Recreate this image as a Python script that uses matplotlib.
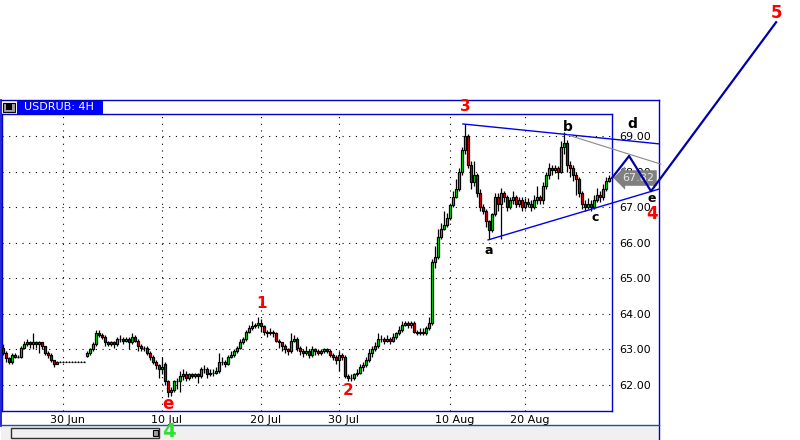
import matplotlib
matplotlib.use("Agg")
import matplotlib.pyplot as plt
from matplotlib.patches import Rectangle
from matplotlib.transforms import blended_transform_factory, ScaledTranslation

# USDRUB 4H candles
opens = [63.05, 62.9, 62.75, 62.65, 62.85, 62.8, 62.8, 63.05, 63.15, 63.2,
         63.15, 63.2, 63.15, 63.2, 63.1, 62.9, 62.85, 62.7, 62.6, 62.66,
         62.66, 62.66, 62.66, 62.66, 62.66, 62.66, 62.66, 62.66, 62.82, 62.9,
         63.0, 63.15, 63.45, 63.4, 63.35, 63.2, 63.15, 63.2, 63.15, 63.3,
         63.3, 63.25, 63.3, 63.2, 63.35, 63.25, 63.1, 63.05, 63.05, 62.9,
         62.8, 62.65, 62.55, 62.45, 62.6, 62.1, 61.8, 61.85, 62.1, 62.1,
         62.25, 62.3, 62.2, 62.3, 62.25, 62.3, 62.25, 62.45, 62.45, 62.3,
         62.35, 62.35, 62.4, 62.65, 62.65, 62.6, 62.8, 62.85, 62.95, 63.05,
         63.2, 63.3, 63.5, 63.6, 63.65, 63.7, 63.75, 63.65, 63.5, 63.45,
         63.5, 63.45, 63.25, 63.2, 63.1, 63.0, 62.95, 63.25, 63.3, 63.05,
         62.95, 62.9, 62.95, 62.85, 63.0, 62.95, 62.9, 62.95, 63.0, 62.95,
         62.85, 62.8, 62.7, 62.85, 62.8, 62.25, 62.2, 62.2, 62.3, 62.35,
         62.5, 62.55, 62.7, 62.9, 63.0, 63.1, 63.3, 63.3, 63.25, 63.3,
         63.25, 63.35, 63.45, 63.55, 63.7, 63.75, 63.7, 63.75, 63.5, 63.45,
         63.5, 63.45, 63.6, 63.75, 65.45, 65.6, 66.15, 66.4, 66.5, 66.7,
         67.05, 67.3, 67.5, 68.0, 68.6, 69.0, 68.2, 67.7, 67.9, 67.4,
         67.0, 66.9, 66.6, 66.35, 66.8, 67.3, 67.1, 67.4, 67.3, 67.0,
         67.2, 67.3, 67.1, 67.2, 67.0, 67.15, 67.1, 67.0, 67.2, 67.3,
         67.2, 67.6, 67.9, 68.1, 68.05, 68.1, 68.0, 68.7, 68.8, 68.2,
         68.1, 67.9, 67.8, 67.4, 67.1, 67.0, 67.1, 67.0, 67.2, 67.35,
         67.3, 67.5, 67.75]
closes = [62.9, 62.75, 62.65, 62.85, 62.8, 62.8, 63.05, 63.15, 63.2, 63.15,
          63.2, 63.15, 63.2, 63.1, 62.9, 62.85, 62.7, 62.6, 62.66, 62.66,
          62.66, 62.66, 62.66, 62.66, 62.66, 62.66, 62.66, 62.66, 62.9, 63.0,
          63.15, 63.45, 63.4, 63.35, 63.2, 63.15, 63.2, 63.15, 63.3, 63.3,
          63.25, 63.3, 63.2, 63.35, 63.25, 63.1, 63.05, 63.05, 62.9, 62.8,
          62.65, 62.55, 62.45, 62.5, 62.1, 61.8, 61.85, 62.1, 62.1, 62.25,
          62.3, 62.2, 62.3, 62.25, 62.3, 62.25, 62.45, 62.45, 62.3, 62.35,
          62.35, 62.4, 62.65, 62.65, 62.6, 62.8, 62.85, 62.95, 63.05, 63.2,
          63.3, 63.5, 63.6, 63.65, 63.7, 63.75, 63.65, 63.5, 63.45, 63.5,
          63.45, 63.25, 63.2, 63.1, 63.0, 62.95, 63.25, 63.3, 63.05, 62.95,
          62.9, 62.95, 62.85, 63.0, 62.95, 62.9, 62.95, 63.0, 62.95, 62.85,
          62.8, 62.7, 62.85, 62.8, 62.25, 62.2, 62.2, 62.3, 62.35, 62.5,
          62.55, 62.7, 62.9, 63.0, 63.1, 63.3, 63.3, 63.25, 63.3, 63.25,
          63.35, 63.45, 63.55, 63.7, 63.75, 63.7, 63.75, 63.5, 63.45, 63.5,
          63.45, 63.6, 63.75, 65.45, 65.6, 66.15, 66.4, 66.5, 66.7, 67.05,
          67.3, 67.5, 68.0, 68.6, 69.0, 68.2, 67.7, 67.9, 67.4, 67.0,
          66.9, 66.6, 66.35, 66.8, 67.3, 67.1, 67.4, 67.3, 67.0, 67.2,
          67.3, 67.1, 67.2, 67.0, 67.15, 67.1, 67.0, 67.2, 67.3, 67.2,
          67.6, 67.9, 68.1, 68.05, 68.1, 68.0, 68.7, 68.8, 68.2, 68.1,
          67.9, 67.8, 67.4, 67.1, 67.0, 67.1, 67.0, 67.2, 67.35, 67.3,
          67.5, 67.75, 67.82]
highs = [63.15, 62.95, 62.8, 62.9, 62.9, 62.85, 63.1, 63.25, 63.3, 63.25,
         63.45, 63.25, 63.25, 63.2, 63.1, 62.95, 62.9, 62.7, 62.68, 62.67,
         62.67, 62.67, 62.67, 62.67, 62.67, 62.67, 62.67, 62.67, 62.95, 63.05,
         63.2, 63.55, 63.55, 63.45, 63.4, 63.25, 63.25, 63.25, 63.35, 63.4,
         63.35, 63.35, 63.35, 63.45, 63.4, 63.3, 63.15, 63.1, 63.1, 62.95,
         62.85, 62.7, 62.6, 62.8, 62.65, 62.15, 61.95, 62.15, 62.2, 62.4,
         62.45, 62.4, 62.35, 62.35, 62.35, 62.35, 62.5, 62.55, 62.5, 62.45,
         62.45, 62.5, 62.9, 62.8, 62.7, 62.85, 62.95, 63.0, 63.1, 63.3,
         63.35, 63.55, 63.7, 63.8, 63.75, 63.9, 63.85, 63.7, 63.55, 63.6,
         63.55, 63.5, 63.3, 63.2, 63.15, 63.05, 63.45, 63.4, 63.35, 63.1,
         63.0, 63.1, 63.0, 63.1, 63.05, 63.0, 63.0, 63.05, 63.05, 63.0,
         62.9, 62.85, 62.95, 62.9, 62.85, 62.3, 62.3, 62.35, 62.45, 62.6,
         62.65, 62.8, 63.0, 63.1, 63.2, 63.45, 63.4, 63.35, 63.4, 63.35,
         63.45, 63.5, 63.65, 63.8, 63.8, 63.8, 63.8, 63.8, 63.55, 63.6,
         63.6, 63.65, 63.9, 65.55, 65.9, 66.4, 66.55, 66.9, 66.85, 67.1,
         67.45, 67.8, 68.1, 68.7, 69.35, 69.05, 68.3, 68.3, 67.95, 67.5,
         67.1, 66.95, 66.65, 66.85, 67.4, 67.4, 67.55, 67.45, 67.35, 67.3,
         67.45, 67.35, 67.3, 67.3, 67.25, 67.25, 67.2, 67.35, 67.6, 67.35,
         67.7, 68.0, 68.25, 68.2, 68.2, 68.15, 68.85, 69.1, 68.9, 68.3,
         68.2, 68.0, 67.85, 67.45, 67.2, 67.25, 67.2, 67.35, 67.55, 67.45,
         67.65, 67.85, 67.9]
lows = [62.85, 62.65, 62.6, 62.6, 62.75, 62.75, 62.75, 63.0, 63.1, 63.05,
        63.0, 63.05, 62.9, 63.0, 62.85, 62.75, 62.65, 62.5, 62.62, 62.65,
        62.65, 62.65, 62.65, 62.65, 62.65, 62.65, 62.65, 62.65, 62.8, 62.85,
        62.95, 63.1, 63.35, 63.3, 63.1, 63.1, 63.1, 63.05, 63.1, 63.2,
        63.15, 63.2, 63.0, 63.15, 63.2, 62.95, 62.95, 62.95, 62.85, 62.7,
        62.6, 62.45, 62.2, 62.3, 62.0, 61.65, 61.7, 61.8, 61.9, 61.8,
        62.15, 62.1, 62.15, 62.2, 62.2, 62.05, 62.2, 62.35, 62.2, 62.25,
        62.25, 62.3, 62.35, 62.55, 62.5, 62.55, 62.75, 62.8, 62.9, 63.0,
        63.15, 63.25, 63.45, 63.55, 63.6, 63.6, 63.5, 63.4, 63.35, 63.4,
        63.35, 63.2, 63.05, 62.95, 62.9, 62.85, 62.9, 63.2, 62.95, 62.85,
        62.8, 62.85, 62.75, 62.8, 62.85, 62.85, 62.85, 62.9, 62.9, 62.8,
        62.7, 62.6, 62.4, 62.7, 62.2, 62.1, 62.1, 62.15, 62.25, 62.3,
        62.4, 62.5, 62.65, 62.8, 62.95, 63.05, 63.2, 63.15, 63.2, 63.15,
        63.2, 63.3, 63.4, 63.5, 63.65, 63.6, 63.6, 63.45, 63.4, 63.4,
        63.4, 63.4, 63.55, 63.7, 65.3, 65.55, 66.1, 66.35, 66.45, 66.65,
        67.0, 67.25, 67.45, 67.9, 68.5, 68.1, 67.5, 67.6, 67.3, 66.9,
        66.8, 66.45, 66.1, 66.3, 66.75, 66.9, 66.1, 67.15, 66.9, 66.95,
        67.1, 67.0, 67.0, 66.9, 66.95, 67.0, 66.9, 66.95, 67.1, 67.1,
        67.1, 67.5, 67.8, 67.9, 67.95, 67.8, 67.95, 68.5, 68.0, 67.85,
        67.75, 67.35, 67.3, 66.95, 66.9, 66.95, 66.9, 66.95, 67.15, 67.15,
        67.2, 67.45, 67.7]

price_ticks = [62, 63, 64, 65, 66, 67, 68, 69]
date_pos = [20, 53, 86, 112, 149, 174]
date_labels = ["30 Jun", "10 Jul", "20 Jul", "30 Jul", "10 Aug", "20 Aug"]

# Elliott wave drawing (bar index, price)
upper_x, upper_y = [153.3, 218.7], [69.34, 68.78]
lower_x, lower_y = [161.7, 218.7], [66.08, 67.51]
gray_x, gray_y = [188.3, 219.3], [69.03, 68.21]
zig_x = [203, 208.7, 216, 257.7]
zig_y = [67.82, 68.44, 67.45, 72.2]

red_labels = [("3", 154, 69.82, 11), ("1", 86.3, 64.28, 11), ("2", 115, 61.86, 11),
              ("e", 55, 61.46, 12), ("5", 257.7, 72.46, 12), ("4", 216.3, 66.8, 12)]
black_labels = [("a", 162, 65.77), ("b", 188.3, 69.25), ("c", 197.3, 66.72),
                ("d", 209.7, 69.34), ("e", 216.3, 67.25)]

blue = "#0000cc"

fig = plt.figure(figsize=(8, 4.4), dpi=100)

# window chrome in pixel coordinates
bg = fig.add_axes([0, 0, 1, 1], zorder=0)
bg.set_xlim(0, 800)
bg.set_ylim(440, 0)
bg.axis("off")
bg.add_patch(Rectangle((1, 426), 658, 14, fc="#f0f0f0", ec="none"))
bg.plot([0.5, 659], [100.5, 100.5], color=blue, lw=1)
bg.plot([0.5, 0.5], [100.5, 426], color=blue, lw=1.2)
bg.plot([659, 659], [100.5, 440], color=blue, lw=1)
bg.plot([0.5, 659], [425.5, 425.5], color="#1f4fa8", lw=1)
bg.add_patch(Rectangle((17, 101), 86, 13, fc="#0000ff", ec="none"))
bg.text(24, 107.5, "USDRUB: 4H", color="white", fontsize=8, va="center", ha="left")
bg.add_patch(Rectangle((3, 103), 12, 9, fc="#a0a0a0", ec="black", lw=0.8))
bg.add_patch(Rectangle((6, 104.5), 6, 6, fc="black", ec="none"))
bg.add_patch(Rectangle((10.5, 428.5), 148, 9.5, fc="#f0f0f0", ec="#303030", lw=1))
bg.add_patch(Rectangle((152.5, 430), 5.5, 6.5, fc="#a0a0a0", ec="black", lw=0.8))

ax = fig.add_axes([2 / 800, 1 - 411 / 440, 610 / 800, 297 / 440], zorder=1)
ax.set_xlim(-0.33, 203)
ax.set_ylim(61.27, 69.62)
for s in ax.spines.values():
    s.set_color(blue)
    s.set_linewidth(1)

idx = list(range(len(closes)))
ax.vlines(idx, lows, highs, color="black", lw=0.9, zorder=2)
bottoms = [min(o, c) for o, c in zip(opens, closes)]
heights = [abs(c - o) for o, c in zip(opens, closes)]
cols = ["#00ff00" if c >= o else "#ff0000" for o, c in zip(opens, closes)]
ax.bar(idx, heights, bottom=bottoms, width=0.95, color=cols,
       edgecolor="black", linewidth=0.9, zorder=3)

ax.set_yticks(price_ticks)
ax.set_yticklabels([f"{p:.2f}" for p in price_ticks])
ax.yaxis.tick_right()
ax.set_xticks(date_pos)
ax.set_xticklabels(date_labels)
ax.tick_params(length=0, labelsize=8, colors="black")
ax.tick_params(axis="y", pad=5)
ax.tick_params(axis="x", pad=3)
for lab in ax.get_xticklabels():
    lab.set_transform(lab.get_transform() + ScaledTranslation(5 / 100, 0, fig.dpi_scale_trans))
ax.grid(True, color="black", linestyle=(0, (1, 5)), linewidth=0.8)
ax.set_axisbelow(True)

# wave lines
ax.plot(upper_x, upper_y, color="#0000ee", lw=1, clip_on=False, zorder=4)
ax.plot(lower_x, lower_y, color="#0000ee", lw=1, clip_on=False, zorder=4)
ax.plot(gray_x, gray_y, color="#888888", lw=0.8, clip_on=False, zorder=4)

# last price tag
tr = blended_transform_factory(ax.transAxes, ax.transData)
ax.text(1 + 10 / 610, closes[-1], f"{closes[-1]:.2f}", transform=tr, color="#e8e8e8",
        fontsize=8, va="center", ha="left", zorder=5, clip_on=False,
        bbox=dict(boxstyle="larrow,pad=0.25", fc="#808080", ec="none"))

ax.plot(zig_x, zig_y, color="#0000aa", lw=1.6, clip_on=False, zorder=6)

for t, x, y, fs in red_labels:
    ax.text(x, y, t, color="red", fontsize=fs, fontweight="bold", ha="center",
            va="center", clip_on=False, zorder=7)
for t, x, y in black_labels:
    ax.text(x, y, t, color="black", fontsize=10 if t in "bd" else 9, fontweight="bold",
            ha="center", va="center", clip_on=False, zorder=7)
ax.text(55.3, 60.68, "4", color="#33dd33", fontsize=14, fontweight="bold",
        ha="center", va="center", clip_on=False, zorder=7)

fig.savefig("out.png", dpi=100)
